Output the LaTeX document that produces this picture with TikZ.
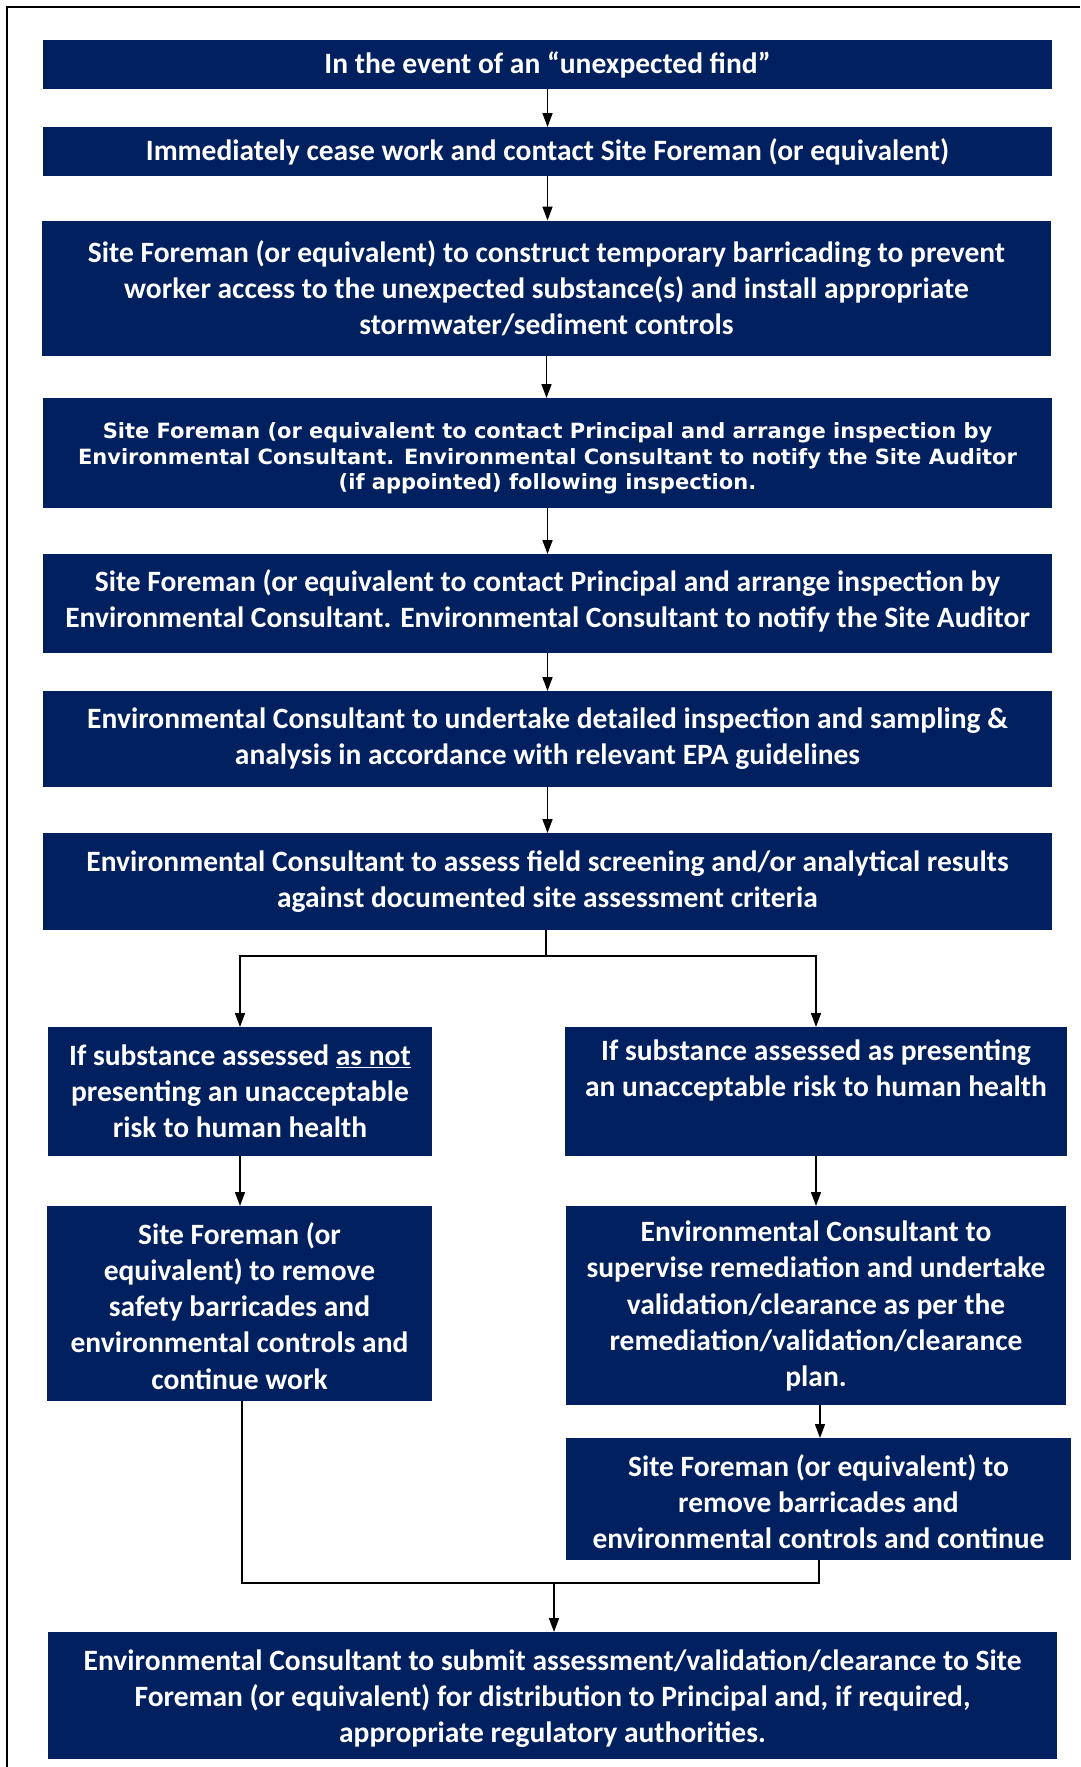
\documentclass[tikz,border=0pt]{standalone}
\usepackage{fontspec}
\setmainfont{Carlito}
\newfontfamily\verdfont{DejaVu Sans}
\usetikzlibrary{arrows.meta}
\definecolor{navy}{RGB}{0,32,96}
\begin{document}
\begin{tikzpicture}[x=1pt,y=-1pt,
  box/.style={fill=navy, draw=none, inner sep=0pt, outer sep=0pt, text=white,
    font=\fontsize{29.5}{36.1}\selectfont\bfseries, align=center},
  label/.style={inner sep=0pt, text=white, align=center,
    font=\fontsize{29.5}{36.1}\selectfont\bfseries},
  flow/.style={line width=1.6pt, -{Triangle[length=14pt,width=10pt]}},
  link/.style={line width=2pt}]
\useasboundingbox (0,0) rectangle (1080,1767);
\fill[white] (0,0) rectangle (1080,1767);
% page frame (top and left edges)
\draw[line width=2.5pt] (1080,7) -- (7,7) -- (7,1767);

% main column
\node[box, minimum width=1009pt, minimum height=49pt] (b1) at (547.5,64.5)
  {In the event of an “unexpected find”};
\node[box, minimum width=1009pt, minimum height=49pt] (b2) at (547.5,151.5)
  {Immediately cease work and contact Site Foreman (or equivalent)};
\node[box, minimum width=1009pt, minimum height=135pt] (b3) at (546.5,288)
  {Site Foreman (or equivalent) to construct temporary barricading to prevent\\
   worker access to the unexpected substance(s) and install appropriate\\
   stormwater/sediment controls};
\node[box, minimum width=1009pt, minimum height=110pt] (b4) at (547.5,453) {};
\node[label, font=\verdfont\fontsize{21}{25.5}\selectfont\bfseries] (t4) at (547.5,458.5)
  {Site Foreman (or equivalent to contact Principal and arrange inspection by\\
   Environmental Consultant. Environmental Consultant to notify the Site Auditor\\
   (if appointed) following inspection.};
\node[box, minimum width=1009pt, minimum height=99pt] (b5) at (547.5,603.5) {};
\node[label] (t5) at (547.5,601)
  {Site Foreman (or equivalent to contact Principal and arrange inspection by\\
   Environmental Consultant. Environmental Consultant to notify the Site Auditor};
\node[box, minimum width=1009pt, minimum height=96pt] (b6) at (547.5,739)
  {Environmental Consultant to undertake detailed inspection and sampling \&\\
   analysis in accordance with relevant EPA guidelines};
\node[box, minimum width=1009pt, minimum height=97pt] (b7) at (547.5,881.5)
  {Environmental Consultant to assess field screening and/or analytical results\\
   against documented site assessment criteria};

% left branch
\node[box, minimum width=384pt, minimum height=129pt] (b8l) at (240,1091.5)
  {If substance assessed \underline{as not}\\
   presenting an unacceptable\\
   risk to human health};
\node[box, minimum width=385pt, minimum height=195pt] (b9l) at (239.5,1303.5) {};
\node[label] (t9l) at (239.5,1306)
  {Site Foreman (or\\
   equivalent) to remove\\
   safety barricades and\\
   environmental controls and\\
   continue work};

% right branch
\node[box, minimum width=502pt, minimum height=129pt] (b8r) at (816,1091.5) {};
\node[label] (t8r) at (816,1070)
  {If substance assessed as presenting\\
   an unacceptable risk to human health};
\node[box, minimum width=500pt, minimum height=199pt] (b9r) at (816,1305.5) {};
\node[label] (t9r) at (816,1306)
  {Environmental Consultant to\\
   supervise remediation and undertake\\
   validation/clearance as per the\\
   remediation/validation/clearance\\
   plan.};
\node[box, minimum width=505pt, minimum height=122pt] (b10r) at (818.5,1499) {};
\node[label] (t10r) at (818.5,1502)
  {Site Foreman (or equivalent) to\\
   remove barricades and\\
   environmental controls and continue};

% final step
\node[box, minimum width=1009pt, minimum height=127pt] (b11) at (552.5,1695.5) {};
\node[label] (t11) at (552.5,1698.5)
  {Environmental Consultant to submit assessment/validation/clearance to Site\\
   Foreman (or equivalent) for distribution to Principal and, if required,\\
   appropriate regulatory authorities.};

% connectors down the main column
\draw[flow] (b1) -- (b2);
\draw[flow] (b2.south) -- (b2.south |- b3.north);
\draw[flow] (b3.south) -- (b3.south |- b4.north);
\draw[flow] (b4.south) -- (b4.south |- b5.north);
\draw[flow] (b5.south) -- (b5.south |- b6.north);
\draw[flow] (b6.south) -- (b6.south |- b7.north);

% split into the two outcomes
\coordinate (split) at (546,956);
\draw[link] (b7.south -| split) -- (split);
\draw[flow] (split) -| (b8l.north);
\draw[flow] (split) -| (b8r.north);

\draw[flow] (b8l.south) -- (b8l.south |- b9l.north);
\draw[flow] (b8r.south) -- (b8r.south |- b9r.north);
\draw[flow] ([xshift=4pt]b9r.south) -- ([xshift=4pt]b9r.south |- b10r.north);

% merge back into the final step
\coordinate (merge) at (554,1583);
\draw[link] ([xshift=2pt]b9l.south) |- (b10r.south |- merge) -- (b10r.south);
\draw[flow] (merge) -- (merge |- b11.north);
\end{tikzpicture}
\end{document}
